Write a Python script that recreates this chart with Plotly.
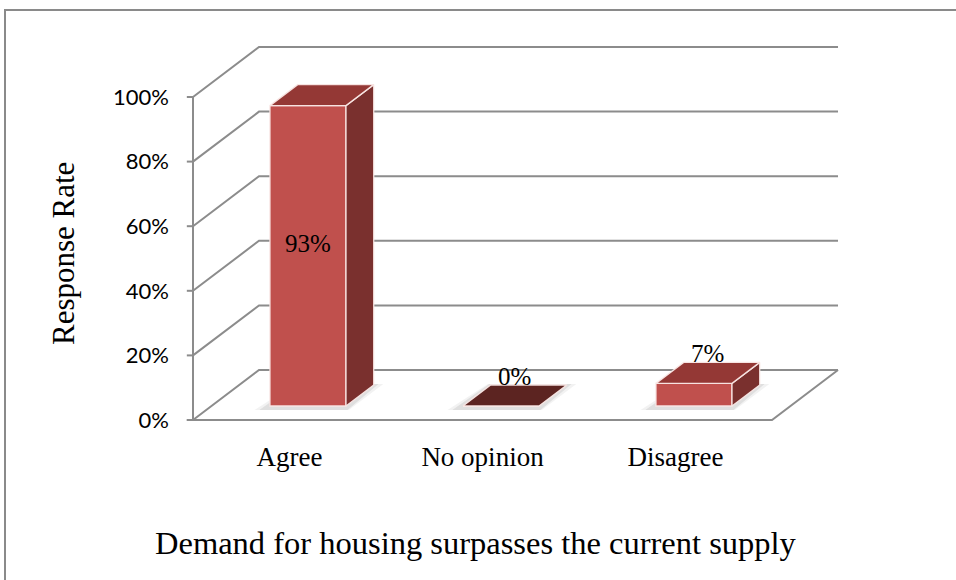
import plotly.graph_objects as go

# Survey responses
categories = ["Agree", "No opinion", "Disagree"]
response_pct = [93, 0, 7]
tick_values = [0, 20, 40, 60, 80, 100]
tick_labels = ["0%", "20%", "40%", "60%", "80%", "100%"]

# Oblique projection of the depth axis, in data units
DX = 0.342      # depth shift along x (category units)
DY = 15.48      # depth shift along y (percent units)
FRONT = 0.28    # bar front sits this far into the depth
DEPTH = 0.42    # bar depth as a fraction of the full depth
BAR_W = 0.394

FRONT_COL = "#C0504D"
TOP_COL = "#943835"
SIDE_COL = "#7A302E"
ZERO_TOP_COL = "#5C2421"
EDGE_COL = "rgba(250,232,230,0.95)"
GRID_COL = "#8C8C8C"
SERIF = "Liberation Serif"

n = len(categories)
fig = go.Figure()


def grid_path(xs, ys, width=2):
    d = "M " + " L ".join(f"{x},{y}" for x, y in zip(xs, ys))
    fig.add_shape(type="path", xref="x", yref="y", path=d, layer="below",
                  line=dict(color=GRID_COL, width=width))


def shade_path(xs, ys, color):
    d = "M " + " L ".join(f"{x},{y}" for x, y in zip(xs, ys)) + " Z"
    fig.add_shape(type="path", xref="x", yref="y", path=d, layer="below",
                  fillcolor=color, line=dict(width=0))


def poly(xs, ys, color, edge=EDGE_COL, lw=1.3):
    fig.add_trace(go.Scatter(x=xs + [xs[0]], y=ys + [ys[0]], mode="lines",
                             fill="toself", fillcolor=color,
                             line=dict(color=edge, width=lw),
                             hoverinfo="skip", showlegend=False))


# Side wall diagonals and back-wall gridlines
for v in tick_values:
    grid_path([0, DX, n + DX], [v, v + DY, v + DY])
# Floor outline
grid_path([-0.032, n, n + DX], [0, 0, DY])
# Front value axis and tick marks
grid_path([0, 0], [0, 100])
for v in tick_values:
    grid_path([-0.032, 0], [v, v])

base = FRONT * DY
bx, by = DEPTH * DX, DEPTH * DY
centers = [i + 0.5 + FRONT * DX for i in range(n)]

# Soft floor shadows under each bar
for c in centers:
    xl, xr = c - BAR_W / 2, c + BAR_W / 2
    for grow, alpha in [(0.05, 0.05), (0.025, 0.08)]:
        shade_path([xl - grow - 0.03, xr + grow * 0.3, xr + bx + grow, xl + bx - grow * 0.3],
                   [base - 1.2, base - 1.2, base + by + 0.3, base + by + 0.3],
                   "rgba(0,0,0,%.2f)" % alpha)

# Front faces
fig.add_trace(go.Bar(x=centers, y=response_pct, base=[base] * n, width=BAR_W,
                     marker=dict(color=FRONT_COL, line=dict(color=EDGE_COL, width=1.3)),
                     hoverinfo="skip", showlegend=False))

# Top and side faces
for c, v in zip(centers, response_pct):
    xl, xr = c - BAR_W / 2, c + BAR_W / 2
    top = base + v
    if v > 0:
        poly([xr, xr, xr + bx, xr + bx], [base, top, top + by, base + by], SIDE_COL)
    poly([xl, xr, xr + bx, xl + bx], [top, top, top + by, top + by],
         TOP_COL if v > 0 else ZERO_TOP_COL)

# Value labels
for c, v in zip(centers, response_pct):
    if v >= 50:
        fig.add_annotation(x=c, y=base + v * 0.54, text=f"{v}%", showarrow=False,
                           font=dict(family=SERIF, size=25, color="black"))
    else:
        fig.add_annotation(x=c + bx / 2, y=base + v + by / 2, text=f"{v}%",
                           showarrow=False, yshift=19,
                           font=dict(family=SERIF, size=25, color="black"))

W, H = 956, 580
L, R, T, B = 180, 900, 20, 430


def px_to_x(p):
    return (p - 193) / 193.0


def py_to_y(p):
    return (420 - p) / 3.23


def paper_x(p):
    return (p - L) / (R - L)


def paper_y(p):
    return (B - p) / (B - T)


fig.add_annotation(xref="paper", yref="paper", x=paper_x(63), y=paper_y(254),
                   xanchor="center", yanchor="middle",
                   text="Response Rate", textangle=-90, showarrow=False,
                   font=dict(family=SERIF, size=31, color="black"))
fig.add_annotation(xref="paper", yref="paper", x=paper_x(476), y=paper_y(543),
                   xanchor="center", yanchor="middle",
                   text="Demand for housing surpasses the current supply",
                   showarrow=False, font=dict(family=SERIF, size=32.5, color="black"))

# Outer frame
fig.add_shape(type="rect", xref="paper", yref="paper",
              x0=paper_x(5), x1=paper_x(970), y0=paper_y(600), y1=paper_y(10),
              line=dict(color="#8A8A8A", width=2), fillcolor="rgba(0,0,0,0)",
              layer="below")

fig.update_layout(
    width=W, height=H,
    margin=dict(l=L, r=W - R, t=T, b=H - B),
    paper_bgcolor="white", plot_bgcolor="white",
    barmode="overlay",
    xaxis=dict(range=[px_to_x(L), px_to_x(R)], tickmode="array",
               tickvals=[i + 0.5 for i in range(n)], ticktext=categories,
               showgrid=False, zeroline=False, showline=False, ticks="",
               ticklabelstandoff=8,
               tickfont=dict(family=SERIF, size=27, color="black")),
    yaxis=dict(range=[py_to_y(B), py_to_y(T)], tickmode="array",
               tickvals=tick_values, ticktext=tick_labels,
               showgrid=False, zeroline=False, showline=False, ticks="",
               ticklabelstandoff=10,
               tickfont=dict(family="Lato", size=22, color="black")),
)

fig.write_html("out.html")
